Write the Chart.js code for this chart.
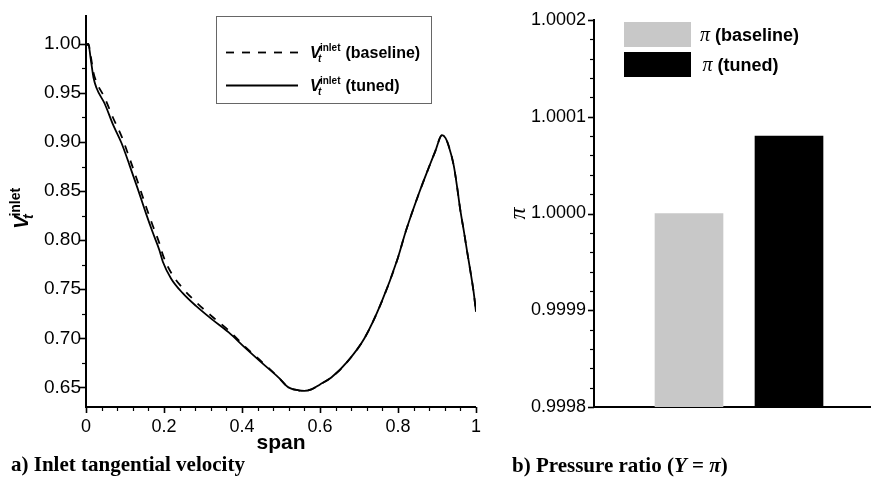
<!DOCTYPE html>
<html><head><meta charset="utf-8">
<script src="https://cdn.jsdelivr.net/npm/chart.js@4"></script>
<style>
html,body{margin:0;padding:0;background:#fff;width:871px;height:477px;overflow:hidden;}
#wrap{position:relative;width:871px;height:477px;background:#fff;}
#c1{position:absolute;left:0;top:0;}
#c2{position:absolute;left:490px;top:0;}
.cap{position:absolute;font-family:"Liberation Serif","Times New Roman",serif;font-weight:bold;font-size:21px;line-height:21px;color:#000;white-space:nowrap;}
</style></head>
<body><div id="wrap">
<canvas id="c1" width="490" height="477"></canvas>
<canvas id="c2" width="381" height="477"></canvas>
<div class="cap" style="left:11px;top:454px;">a) Inlet tangential velocity</div>
<div class="cap" style="left:512px;top:455px;">b) Pressure ratio (<i>Y</i> = <i>π</i>)</div>
</div>
<script>
// ---------- data: panel a ----------
const spanX = [0,0.006,0.012,0.019,0.027,0.048,0.069,0.091,0.112,0.133,0.154,0.171,0.188,0.197,0.218,0.248,0.282,0.324,0.366,0.409,0.451,0.494,0.519,0.545,0.560,0.578,0.600,0.629,0.672,0.714,0.757,0.799,0.820,0.854,0.879,0.895,0.913,0.922,0.930,0.943,0.952,0.960,0.969,0.977,0.985,0.994,1.0];
const vtTuned = [0.998,1.000,0.985,0.966,0.955,0.939,0.918,0.899,0.876,0.852,0.827,0.808,0.790,0.778,0.761,0.746,0.733,0.719,0.706,0.690,0.675,0.660,0.650,0.647,0.6465,0.648,0.653,0.660,0.677,0.700,0.736,0.781,0.809,0.848,0.874,0.890,0.907,0.904,0.896,0.876,0.853,0.830,0.809,0.789,0.770,0.747,0.727];
const vtBaseline = [0.998,1.000,0.988,0.971,0.961,0.945,0.925,0.906,0.883,0.859,0.834,0.815,0.797,0.785,0.767,0.751,0.737,0.722,0.708,0.691,0.676,0.660,0.650,0.647,0.6465,0.648,0.653,0.660,0.677,0.700,0.736,0.781,0.809,0.848,0.874,0.890,0.907,0.904,0.896,0.876,0.853,0.830,0.809,0.789,0.770,0.747,0.727];
const seriesNames = ['baseline','tuned'];
const xTickValues = [0,0.2,0.4,0.6,0.8,1];
const xTickLabels = ['0','0.2','0.4','0.6','0.8','1'];
const yTickValues = [0.65,0.70,0.75,0.80,0.85,0.90,0.95,1.00];
const yTickLabels = ['0.65','0.70','0.75','0.80','0.85','0.90','0.95','1.00'];

// ---------- data: panel b ----------
const barNames = ['baseline','tuned'];
const piValues = [1.00000, 1.00008];
const barColors = ['#c8c8c8','#000000'];
const piTickValues = [0.9998,0.9999,1.0000,1.0001,1.0002];
const piTickLabels = ['0.9998','0.9999','1.0000','1.0001','1.0002'];

function minorBetween(majors, n){
  const out=[];
  for(let i=0;i<majors.length-1;i++){
    const a=majors[i], b=majors[i+1];
    for(let k=1;k<n;k++) out.push(a+(b-a)*k/n);
  }
  return out;
}

function tickPlugin(cfg){
  return {
    id:'tickMarks',
    afterDraw(chart){
      const ctx=chart.ctx, ca=chart.chartArea;
      ctx.save(); ctx.strokeStyle='#000';
      for(const id in cfg){
        const s=chart.scales[id], o=cfg[id];
        const list=[...o.major.map(v=>[v,o.len,1.6]),...o.minor.map(v=>[v,o.minorLen,1.2])];
        for(const [v,len,w] of list){
          const p=Math.round(s.getPixelForValue(v))+0.5;
          ctx.lineWidth=w; ctx.beginPath();
          if(s.isHorizontal()){ ctx.moveTo(p,ca.bottom); ctx.lineTo(p,ca.bottom+len); }
          else { ctx.moveTo(ca.left,p); ctx.lineTo(ca.left-len,p); }
          ctx.stroke();
        }
      }
      ctx.restore();
    }
  };
}

// draws V_t^inlet at (x, baseline y) in current transform
function drawVt(ctx, x, y, big, small){
  ctx.fillStyle='#000'; ctx.textBaseline='alphabetic'; ctx.textAlign='left';
  ctx.font='italic bold '+big+'px "Liberation Sans", Arial, sans-serif';
  ctx.fillText('V', x, y);
  ctx.font='italic bold '+small+'px "Liberation Sans", Arial, sans-serif';
  ctx.fillText('t', x+big*0.5, y+small*0.35);
  ctx.font='bold '+small+'px "Liberation Sans", Arial, sans-serif';
  ctx.fillText('inlet', x+big*0.62, y-big*0.42);
  return big*0.62 + ctx.measureText('inlet').width;
}

const leftDecor = {
  id:'leftDecor',
  afterDraw(chart){
    const ctx=chart.ctx;
    ctx.save();
    // legend box
    ctx.strokeStyle='#666'; ctx.lineWidth=1;
    ctx.strokeRect(216.5,16.5,215,87);
    chart.data.datasets.forEach((ds,i)=>{
      const yy=52.5+33*i;
      ctx.save();
      ctx.strokeStyle=ds.borderColor; ctx.lineWidth=ds.borderWidth;
      ctx.setLineDash(ds.borderDash||[]);
      ctx.beginPath(); ctx.moveTo(226,yy); ctx.lineTo(298,yy); ctx.stroke();
      ctx.restore();
      const w=drawVt(ctx,310,yy+5.5,16,10);
      ctx.font='bold 16px "Liberation Sans", Arial, sans-serif';
      ctx.fillText('('+ds.label+')',310+w+5,yy+5.5);
    });
    // y-axis title (rotated)
    ctx.translate(28,229); ctx.rotate(-Math.PI/2);
    drawVt(ctx,0,0,20,14);
    ctx.restore();
  }
};

new Chart(document.getElementById('c1'),{
  type:'line',
  data:{datasets:[
    {label:seriesNames[0], data:spanX.map((x,i)=>({x, y:vtBaseline[i]})), borderColor:'#000', borderWidth:1.8, borderDash:[8,8], pointRadius:0, fill:false, cubicInterpolationMode:'monotone'},
    {label:seriesNames[1], data:spanX.map((x,i)=>({x, y:vtTuned[i]})), borderColor:'#000', borderWidth:1.8, borderDash:[], pointRadius:0, fill:false, cubicInterpolationMode:'monotone'}
  ]},
  options:{
    responsive:false, animation:false, devicePixelRatio:1,
    layout:{padding:{left:0,right:11,top:12,bottom:0}},
    plugins:{legend:{display:false}, tooltip:{enabled:false}},
    scales:{
      x:{type:'linear', min:0, max:1,
        grid:{display:false, drawTicks:false},
        border:{display:true, color:'#000', width:2},
        afterBuildTicks:s=>{s.ticks=xTickValues.map(v=>({value:v}));},
        afterFit:s=>{s.height=70;},
        ticks:{padding:9, color:'#000', font:{family:'"Liberation Sans", Arial, sans-serif', size:18}, callback:(v,i)=>xTickLabels[i], maxRotation:0, autoSkip:false},
        title:{display:true, text:'span', color:'#000', font:{family:'"Liberation Sans", Arial, sans-serif', size:21, weight:'bold'}, padding:{top:0,bottom:21}}
      },
      y:{type:'linear', min:0.63, max:1.028,
        grid:{display:false, drawTicks:false},
        border:{display:true, color:'#000', width:2},
        afterBuildTicks:s=>{s.ticks=yTickValues.map(v=>({value:v}));},
        afterFit:s=>{s.width=86;},
        ticks:{padding:5, color:'#000', font:{family:'"Liberation Sans", Arial, sans-serif', size:19}, callback:(v,i)=>yTickLabels[i], autoSkip:false}
      }
    }
  },
  plugins:[tickPlugin({
    x:{major:xTickValues, minor:minorBetween(xTickValues,5), len:6, minorLen:4},
    y:{major:yTickValues, minor:minorBetween(yTickValues,2), len:7, minorLen:4}
  }), leftDecor]
});

const rightDecor = {
  id:'rightDecor',
  afterDraw(chart){
    const ctx=chart.ctx;
    ctx.save();
    chart.data.datasets.forEach((ds,i)=>{
      const top=22+30*i;
      ctx.fillStyle=ds.backgroundColor;
      ctx.fillRect(134,top,67,25);
      const by=top+18.5;
      ctx.fillStyle='#000'; ctx.textBaseline='alphabetic'; ctx.textAlign='left';
      ctx.font='italic 20px "Liberation Serif", "Times New Roman", serif';
      const px = 210 + 2.5*i;
      ctx.fillText('π',px,by);
      ctx.font='bold 18px "Liberation Sans", Arial, sans-serif';
      ctx.fillText('('+ds.label+')',px+15,by);
    });
    ctx.restore();
  }
};

new Chart(document.getElementById('c2'),{
  type:'bar',
  data:{datasets:barNames.map((n,i)=>({
    label:n, data:[{x:i+1, y:piValues[i]}], backgroundColor:barColors[i], borderWidth:0,
    barThickness:68, grouped:false, base:piTickValues[0]
  }))},
  options:{
    responsive:false, animation:false, devicePixelRatio:1,
    layout:{padding:{left:0,right:0,top:20,bottom:0}},
    plugins:{legend:{display:false}, tooltip:{enabled:false}},
    scales:{
      x:{type:'linear', min:0.05, max:2.82, offset:false,
        grid:{display:false, drawTicks:false},
        border:{display:true, color:'#000', width:2},
        ticks:{display:false},
        afterFit:s=>{s.height=70;}
      },
      y:{type:'linear', min:0.9998, max:1.0002,
        grid:{display:false, drawTicks:false},
        border:{display:true, color:'#000', width:2},
        afterBuildTicks:s=>{s.ticks=piTickValues.map(v=>({value:v}));},
        afterFit:s=>{s.width=104;},
        ticks:{padding:8, color:'#000', font:{family:'"Liberation Sans", Arial, sans-serif', size:18}, callback:(v,i)=>piTickLabels[i], autoSkip:false},
        title:{display:true, text:'π', color:'#000', font:{family:'"Liberation Serif", "Times New Roman", serif', size:24, style:'italic'}, padding:{top:14,bottom:0}}
      }
    }
  },
  plugins:[tickPlugin({
    y:{major:piTickValues, minor:minorBetween(piTickValues,5), len:6, minorLen:4}
  }), rightDecor]
});
</script>
</body></html>
